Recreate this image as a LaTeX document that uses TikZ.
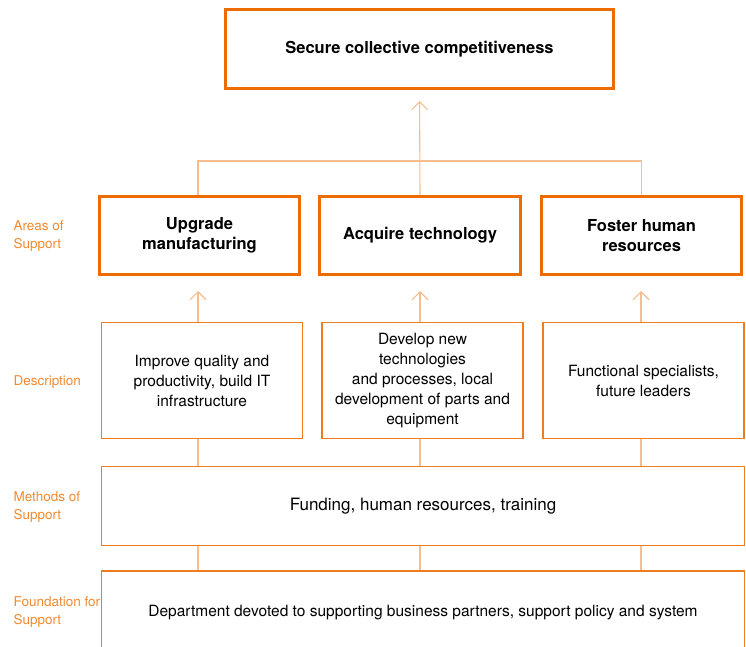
\documentclass[tikz,border=0pt]{standalone}
\usepackage{fontspec}
\setmainfont{TeX Gyre Heros}
\usepackage{xcolor}
\usetikzlibrary{arrows.meta,positioning}
\definecolor{brandorange}{HTML}{EC6C00}
\definecolor{lineorange}{HTML}{EE7D1F}
\definecolor{linkorange}{HTML}{F6BE8E}
\definecolor{labelorange}{HTML}{F08A30}

\begin{document}
\begin{tikzpicture}[x=1pt, y=1pt,
  goalbox/.style={draw=brandorange, line width=3pt, fill=white, minimum height=78pt, align=center, font=\bfseries\fontsize{16.5}{19.5}\selectfont},
  descbox/.style={draw=lineorange, line width=1.2pt, minimum width=201pt, minimum height=116pt, align=center, font=\fontsize{15.5}{20}\selectfont},
  widebox/.style={draw=lineorange, line width=1.2pt, minimum width=643pt, minimum height=79pt, align=center},
  rowlabel/.style={text=labelorange, anchor=west, align=left, font=\fontsize{13.5}{18}\selectfont},
  link/.style={draw=linkorange, line width=1.1pt},
  arrow/.style={link, -{Straight Barb[length=8pt, width=16pt, line width=1.1pt]}}
]
\useasboundingbox (0,0) rectangle (746,646);

% goal on top
\node[goalbox, minimum width=388pt, minimum height=79pt] (goal) at (419.5,597) {Secure collective competitiveness};

% areas of support
\node[goalbox, minimum width=200pt] (upgrade) at (199.5,410.5) {Upgrade\\manufacturing};
\node[goalbox, minimum width=201pt] (acquire) at (420,410.5) {Acquire technology};
\node[goalbox, minimum width=200pt] (foster) at (641.5,410.5) {Foster human\\resources};

% descriptions
\node[descbox, below=46pt of upgrade.south, anchor=north, xshift=2.5pt] (descupgrade) {Improve quality and\\productivity, build IT\\infrastructure};
\node[descbox, below=46pt of acquire.south, anchor=north, xshift=2.5pt] (descacquire) {Develop new\\technologies\\and processes, local\\development of parts and\\equipment};
\node[descbox, below=46pt of foster.south, anchor=north, xshift=2pt] (descfoster) {Functional specialists,\\future leaders};

% methods and foundation
\node[widebox, font=\fontsize{17}{20}\selectfont] (methods) at (423,140) {Funding, human resources, training};
\node[widebox, minimum height=88pt, text depth=0pt] (found) at (423,31) {};
\node[font=\fontsize{15.5}{18}\selectfont] (foundtext) at (423,33) {Department devoted to supporting business partners, support policy and system};

% row labels
\node[rowlabel] (lblareas) at (10,410) {Areas of\\Support};
\node[rowlabel] (lbldesc) at (10,264) {Description};
\node[rowlabel] (lblmethods) at (10,139) {Methods of\\Support};
\node[rowlabel] (lblfound) at (10,34) {Foundation for\\Support};

% connectors
\draw[link] (upgrade.north -| 198,0) |- (0,485 -| foster.north) -- (foster.north);
\draw[arrow, shorten >=11pt] (acquire.north) -- (goal.south);
\foreach \area/\desc/\xx in {upgrade/descupgrade/198, acquire/descacquire/420, foster/descfoster/641} {
  \draw[arrow, shorten >=15pt] (\desc.north -| \xx,0) -- (\area.south -| \xx,0);
  \draw[link] (\desc.south -| \xx,0) -- (methods.north -| \xx,0);
  \draw[link] (methods.south -| \xx,0) -- (found.north -| \xx,0);
}
\end{tikzpicture}
\end{document}
